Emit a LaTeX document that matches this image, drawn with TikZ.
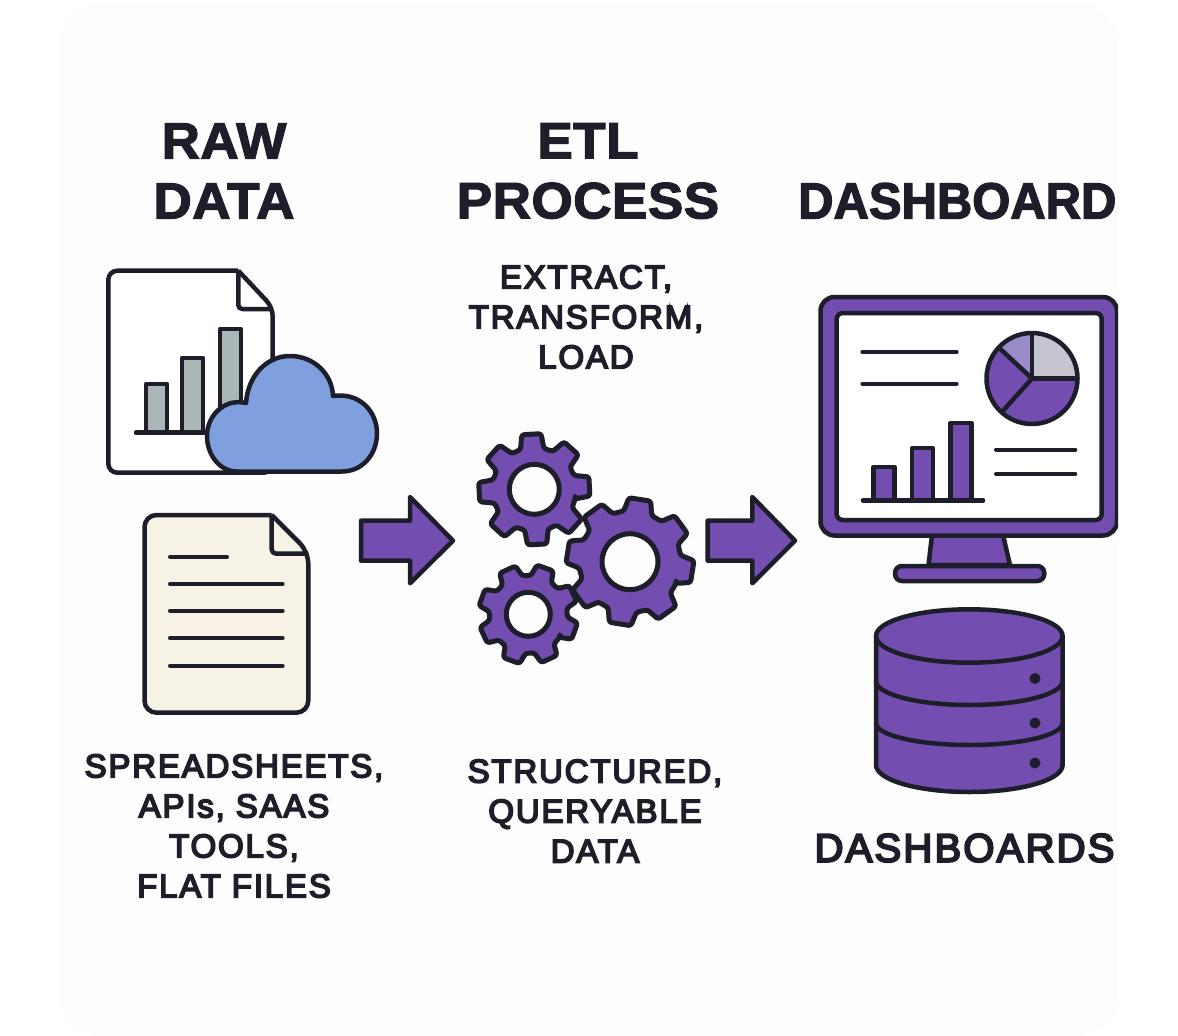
\documentclass[tikz,border=0pt]{standalone}
\usepackage{fontspec}
\usetikzlibrary{calc}
\newfontfamily\headfamily[LetterSpace=1,FakeStretch=1.04,FakeBold=2.5]{Liberation Sans Bold}
\newfontfamily\dashfamily[FakeStretch=0.96,FakeBold=2.5]{Liberation Sans Bold}
\newfontfamily\labelfamily[LetterSpace=5.5,FakeBold=5]{Liberation Sans}
\definecolor{inkdark}{HTML}{1E1E2A}
\definecolor{violetfill}{HTML}{734DB0}
\definecolor{cardbg}{HTML}{FDFDFD}
\definecolor{barsage}{HTML}{A9B8B4}
\definecolor{cloudblue}{HTML}{7F9FDF}
\definecolor{papercream}{HTML}{F7F2E6}
\definecolor{pielilac}{HTML}{9A8CCB}
\definecolor{piegrey}{HTML}{C6C4CF}
\tikzset{
    outline/.style={draw=inkdark,line width=4.5pt,line join=round},
    thinrule/.style={draw=inkdark,line width=4pt,line cap=round},
    headtext/.style={text=inkdark,align=center,inner sep=0pt,font=\headfamily\fontsize{51}{60}\selectfont},
    labeltext/.style={text=inkdark,align=center,inner sep=0pt,font=\labelfamily\fontsize{33}{40}\selectfont}
}
% centre, teeth, tip radius, root radius, turn, hole radius
\newcommand{\cogwheel}[6]{
    \draw [outline,line width=5pt,fill=violetfill,rounded corners=2.5pt,shift={(#1)}] ({.36*360/#2+#5}:#4)
        \foreach \k in {1,...,#2}{
            -- ({(\k-.36)*360/#2+#5}:#4) -- ({(\k-.22)*360/#2+#5}:#3)
            -- ({(\k+.22)*360/#2+#5}:#3) -- ({(\k+.36)*360/#2+#5}:#4)
        } -- cycle;
    \draw [outline,line width=5pt,fill=cardbg] (#1) circle [radius=#6];
}
\begin{document}
\begin{tikzpicture}[x=1pt,y=-1pt]
    \useasboundingbox (0,0) rectangle (1178,1036);
    \fill [white] (0,0) rectangle (1178,1036);
    \fill [cardbg,rounded corners=40pt] (60,3) rectangle (1118,1036);

    \node [headtext] (rawtitle) at (224,171) {RAW\\DATA};
    \node [headtext] (etltitle) at (588,171) {ETL\\PROCESS};
    \node [labeltext] (etlsteps) at (586,317) {EXTRACT,\\TRANSFORM,\\LOAD};
    \node [labeltext] (sources) at (234,826) {SPREADSHEETS,\\APIs, SAAS\\TOOLS,\\FLAT FILES};
    \node [labeltext] (structured) at (595,811) {STRUCTURED,\\QUERYABLE\\DATA};

    % chart sheet
    \draw [outline,fill=white,rounded corners=9pt] (238.3,270.7) -- (108.3,270.7) -- (108.3,472.7) -- (272.7,472.7) -- (272.7,307.3) [sharp corners] -- (238.3,270.7);
    \draw [outline,rounded corners=4pt] (238.3,270.7) -- (238.3,309) -- (272.7,309);
    \foreach \barx/\bartop in {146/384,182/358,220/329}
        \draw [outline,fill=barsage] (\barx,432.7) -- (\barx,\bartop) -- ({\barx+21},\bartop) -- ({\barx+21},432.7);
    \draw [outline,line cap=round] (136,432.7) -- (215,432.7);
    \draw [outline,fill=cloudblue] (237,471.5) .. controls (219,471.5) and (207,454) .. (207,436)
        .. controls (207,415) and (225,398) .. (246,403)
        .. controls (248,375) and (267,356) .. (290,356)
        .. controls (313,356) and (332,373) .. (333,396)
        .. controls (360,392) and (377,412) .. (377,433)
        .. controls (377,455) and (362,471.5) .. (342,471.5) -- cycle;

    % text sheet
    \draw [outline,fill=papercream,rounded corners=12pt] (271.7,515) -- (144.5,515) -- (144.5,712.7) -- (308.3,712.7) -- (308.3,551.7) [sharp corners] -- (271.7,515);
    \draw [outline,rounded corners=4pt] (271.7,515) -- (271.7,553.5) -- (308.3,553.5);
    \draw [thinrule] (170,556.7) -- (227,556.7);
    \foreach \ruley in {584,610.7,638.3,665.7}
        \draw [thinrule] (170,\ruley) -- (282.7,\ruley);

    % arrows
    \foreach \tailx/\neckx/\tipx in {361/410/453,707.7/752.3/795}
        \draw [outline,fill=violetfill] (\tailx,520.7) -- (\neckx,520.7) -- (\neckx,497) -- (\tipx,540.7) -- (\neckx,583.3) -- (\neckx,560.7) -- (\tailx,560.7) -- cycle;

    % gears
    \cogwheel{630,561.7}{8}{64}{51}{9}{28}
    \cogwheel{534.3,489.3}{8}{56}{42}{-3}{25}
    \cogwheel{528.3,614.3}{8}{50}{39}{20}{22}

    \begin{scope}
        \clip (0,0) rectangle (1118,1036);
        \node [headtext,font=\dashfamily\fontsize{51}{60}\selectfont,anchor=west] (dashtitle) at (798,201) {DASHBOARD};
        % monitor
        \draw [outline,fill=violetfill] (932,535) -- (928.5,565) -- (1010,565) -- (1003,535) -- cycle;
        \draw [outline,fill=violetfill,rounded corners=7pt] (895,566) rectangle (1044.3,581);
        \draw [outline,fill=violetfill,rounded corners=14pt] (820.5,297) rectangle (1117,535.5);
        \draw [outline,fill=white,rounded corners=6pt] (836.7,313) rectangle (1101.7,520);
        \draw [thinrule] (862.3,352) -- (956.7,352);
        \draw [thinrule] (862.3,383.7) -- (956.7,383.7);
        \draw [thinrule] (996,449.5) -- (1075.3,449.5);
        \draw [thinrule] (996,474) -- (1075.3,474);
        \foreach \barx/\bartop in {873.5/467,912/448,950.5/423}
            \draw [outline,fill=violetfill] (\barx,500.5) -- (\barx,\bartop) -- ({\barx+21},\bartop) -- ({\barx+21},500.5);
        \draw [outline,line cap=round] (863,500.5) -- (983,500.5);
        \begin{scope}[shift={(1032,378.5)}]
            \foreach \pfrom/\pto/\pcol in {0/132/violetfill,132/223/violetfill,223/270/pielilac,270/360/piegrey}
                \fill [\pcol] (0,0) -- (\pfrom:45.5) arc [start angle=\pfrom,end angle=\pto,radius=45.5] -- cycle;
            \draw [outline] (132:45.5) -- (0,0) -- (223:45.5);
            \draw [outline] (270:45.5) -- (0,0) -- (0:45.5);
            \draw [outline] (0,0) circle [radius=45.5];
        \end{scope}
        % database
        \draw [outline,fill=violetfill] (876,636) -- (876,765) arc [start angle=180,end angle=0,x radius=93.3,y radius=27] -- (1062.6,636) -- cycle;
        \draw [outline,fill=violetfill] (969.3,636) ellipse [x radius=93.3,y radius=26.7];
        \draw [outline] (876,681) arc [start angle=180,end angle=0,x radius=93.3,y radius=24];
        \draw [outline] (876,723) arc [start angle=180,end angle=0,x radius=93.3,y radius=22];
        \foreach \doty in {678.5,723,763}
            \fill [inkdark] (1035,\doty) circle [radius=5.5];
    \end{scope}
    \node [labeltext,font=\labelfamily\fontsize{40}{40}\selectfont] (dashcaption) at (964.5,848) {DASHBOARDS};
\end{tikzpicture}
\end{document}
